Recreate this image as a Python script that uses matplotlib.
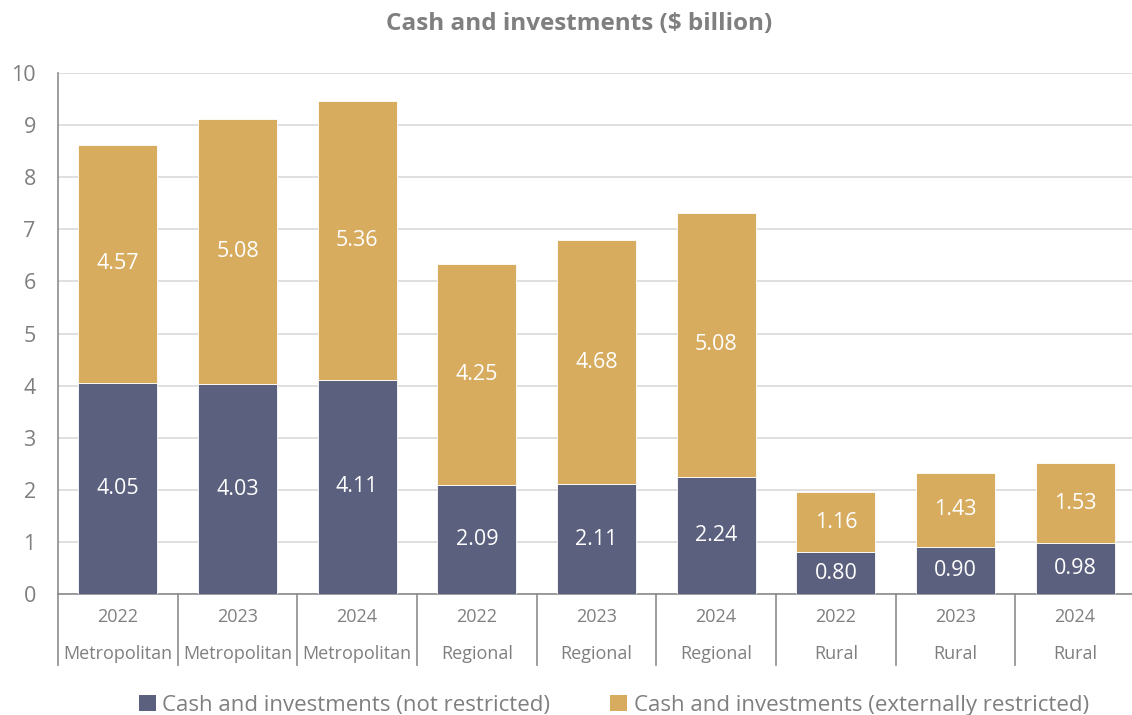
import matplotlib
matplotlib.use("Agg")
import matplotlib.pyplot as plt
import matplotlib.transforms as mtransforms
from matplotlib.patches import Patch

years = ["2022", "2023", "2024", "2022", "2023", "2024", "2022", "2023", "2024"]
groups = ["Metropolitan", "Metropolitan", "Metropolitan", "Regional", "Regional",
          "Regional", "Rural", "Rural", "Rural"]
not_restricted = [4.05, 4.03, 4.11, 2.09, 2.11, 2.24, 0.80, 0.90, 0.98]
ext_restricted = [4.57, 5.08, 5.36, 4.25, 4.68, 5.08, 1.16, 1.43, 1.53]
series_names = ["Cash and investments (not restricted)",
                "Cash and investments (externally restricted)"]
title = "Cash and investments (\\$ billion)"

plt.rcParams['font.family'] = ['Open Sans', 'DejaVu Sans']
NAVY = "#5b607e"
GOLD = "#d8ac5f"
TXT = "#7f7f7f"
GRID = "#d9d9d9"
AX = "#8c8c8c"

W, H = 1132, 715
fig = plt.figure(figsize=(W / 100, H / 100), dpi=100)
ax = fig.add_axes([58 / W, (H - 594) / H, (1135 - 58) / W, (594 - 73) / H])

x = list(range(len(years)))
b1 = ax.bar(x, not_restricted, width=0.66, color=NAVY, edgecolor="white", linewidth=0.6, zorder=3)
b2 = ax.bar(x, ext_restricted, bottom=not_restricted, width=0.66, color=GOLD,
            edgecolor="white", linewidth=0.6, zorder=3)
ax.bar_label(b1, labels=[f"{v:.2f}" for v in not_restricted], label_type="center",
             color="white", fontsize=15.5)
ax.bar_label(b2, labels=[f"{v:.2f}" for v in ext_restricted], label_type="center",
             color="white", fontsize=15.5)

ax.set_xlim(-0.5, len(years) - 0.5)
ax.set_ylim(0, 10)
ax.set_yticks(range(0, 11))
ax.yaxis.grid(True, color=GRID, linewidth=1.2, zorder=0)
ax.tick_params(axis="y", length=0, labelsize=15.5, labelcolor=TXT, pad=16)
ax.set_xticks([])
for s in ["top", "right"]:
    ax.spines[s].set_visible(False)
ax.spines["left"].set_color(AX)
ax.spines["bottom"].set_color(AX)
ax.spines["left"].set_linewidth(1.2)
ax.spines["bottom"].set_linewidth(1.2)

trans = mtransforms.blended_transform_factory(ax.transData, ax.transAxes)
depth = (665 - 594) / (594 - 73)
for i in range(len(years) + 1):
    ax.plot([i - 0.5, i - 0.5], [0, -depth], transform=trans, color=AX,
            linewidth=1.2, clip_on=False)
y_year = -(617 - 594) / (594 - 73)
y_grp = -(654 - 594) / (594 - 73)
for i in x:
    ax.text(i, y_year, years[i], transform=trans, ha="center", va="center",
            fontsize=13, color=TXT)
    ax.text(i, y_grp, groups[i], transform=trans, ha="center", va="center",
            fontsize=13, color=TXT)

fig.text(579 / W, 1 - 24 / H, title, ha="center", va="center", fontsize=17.5,
         fontweight="bold", color=TXT)

handles = [Patch(facecolor=NAVY), Patch(facecolor=GOLD)]
fig.legend(handles, series_names, loc="center", bbox_to_anchor=(614 / W, 1 - 705 / H),
           ncol=2, frameon=False, fontsize=16, labelcolor=TXT, handlelength=0.75,
           handleheight=0.75, handletextpad=0.3, columnspacing=2.7,
           borderpad=0.0)

fig.savefig("out.png", dpi=100)
